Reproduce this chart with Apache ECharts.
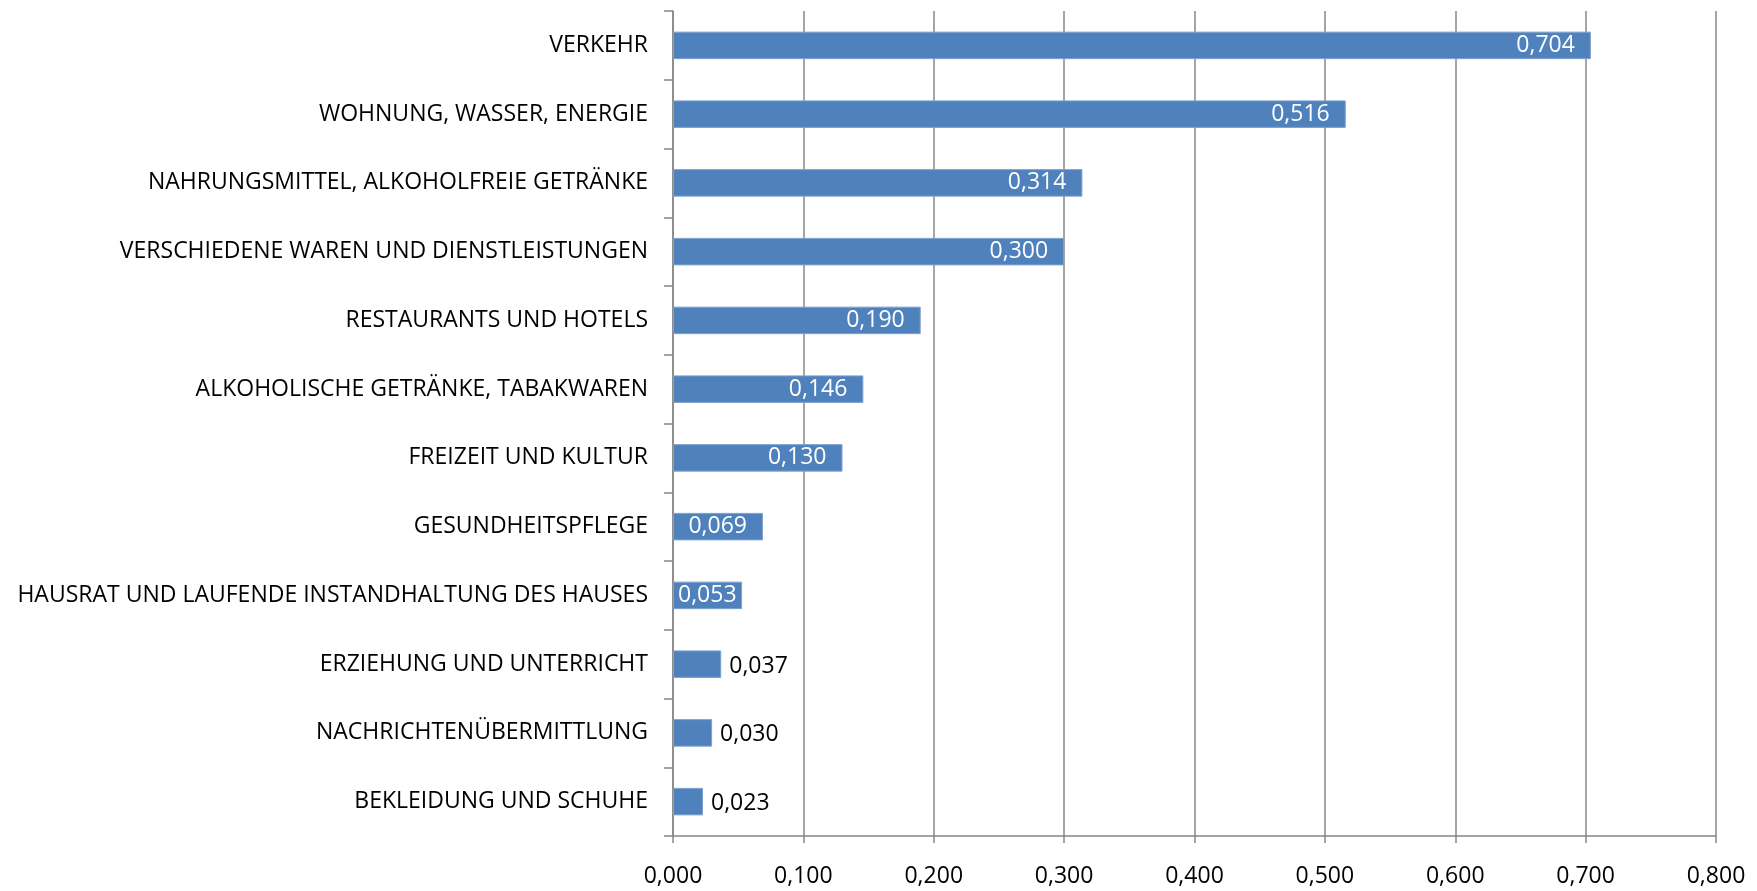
<!DOCTYPE html>
<html>
<head>
<meta charset="utf-8">
<script src="https://cdn.jsdelivr.net/npm/echarts@6/dist/echarts.min.js"></script>
<style>
    html, body { margin: 0; padding: 0; background: #fff; }
    #container { width: 1757px; height: 891px; }
</style>
</head>
<body>
<div id="container"></div>
<script>
// Kategorien (von oben nach unten)
var categories = [
    'VERKEHR',
    'WOHNUNG, WASSER, ENERGIE',
    'NAHRUNGSMITTEL, ALKOHOLFREIE GETRÄNKE',
    'VERSCHIEDENE WAREN UND DIENSTLEISTUNGEN',
    'RESTAURANTS UND HOTELS',
    'ALKOHOLISCHE GETRÄNKE, TABAKWAREN',
    'FREIZEIT UND KULTUR',
    'GESUNDHEITSPFLEGE',
    'HAUSRAT UND LAUFENDE INSTANDHALTUNG DES HAUSES',
    'ERZIEHUNG UND UNTERRICHT',
    'NACHRICHTENÜBERMITTLUNG',
    'BEKLEIDUNG UND SCHUHE'
];
var values = [0.704, 0.516, 0.314, 0.300, 0.190, 0.146, 0.130, 0.069, 0.053, 0.037, 0.030, 0.023];
// Werte, deren Beschriftung außerhalb des Balkens steht
var outsideLabels = [0.037, 0.030, 0.023];

var fontName = '"Open Sans", sans-serif';
var grey = '#878787';

function fmt(v) {
    return v.toFixed(3).replace('.', ',');
}

var seriesData = values.map(function (v) {
    var item = { value: v };
    if (outsideLabels.indexOf(v) >= 0) {
        item.label = { position: 'right', color: '#000', distance: 8, offset: [0, 2] };
    } else if (v < 0.06) {
        item.label = { position: 'insideLeft', distance: 5 };
    }
    return item;
});

var option = {
    animation: false,
    grid: { left: 673, right: 41, top: 11, bottom: 55 },
    xAxis: {
        type: 'value',
        min: 0,
        max: 0.8,
        interval: 0.1,
        axisLine: { show: true, lineStyle: { color: grey, width: 1.5 } },
        axisTick: { show: true, length: 7, lineStyle: { color: grey, width: 1.5 } },
        splitLine: { show: true, lineStyle: { color: grey, width: 1.5 } },
        axisLabel: {
            color: '#000', fontFamily: fontName, fontSize: 23, margin: 29,
            formatter: function (v) { return fmt(v); }
        }
    },
    yAxis: {
        type: 'category',
        inverse: true,
        data: categories,
        axisLine: { show: true, lineStyle: { color: grey, width: 1.5 } },
        axisTick: { show: true, length: 9, lineStyle: { color: grey, width: 1.5 } },
        axisLabel: { color: '#000', fontFamily: fontName, fontSize: 23, margin: 25 }
    },
    series: [{
        type: 'bar',
        data: seriesData,
        barWidth: '40%',
        itemStyle: { color: '#4F81BD', borderColor: '#7EA1CE', borderWidth: 1 },
        label: {
            show: true,
            position: 'insideRight',
            distance: 16,
            color: '#fff',
            fontFamily: fontName,
            fontSize: 23,
            formatter: function (p) { return fmt(p.value); }
        }
    }]
};

echarts.init(document.getElementById('container')).setOption(option);
</script>
</body>
</html>
